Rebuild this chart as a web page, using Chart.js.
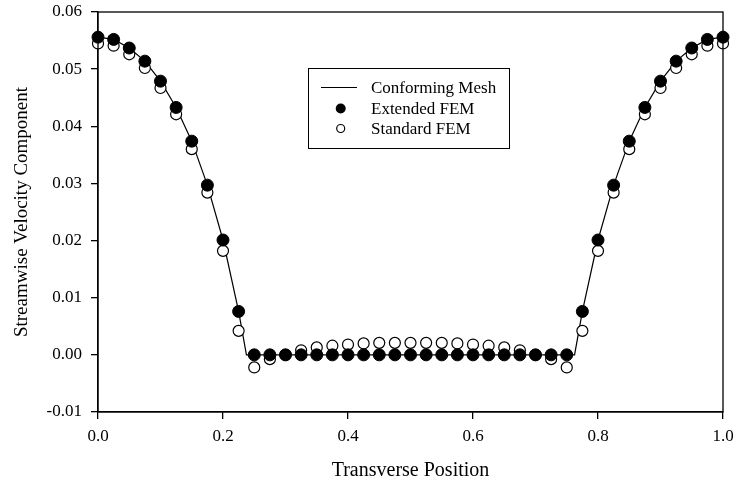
<!DOCTYPE html>
<html>
<head>
<meta charset="utf-8">
<script src="https://cdn.jsdelivr.net/npm/chart.js@4.4.1/dist/chart.umd.min.js"></script>
<style>
  html, body { margin: 0; padding: 0; background: #fff; }
  #wrap { width: 735px; height: 482px; }
</style>
</head>
<body>
<div id="wrap"><canvas id="chart" width="735" height="482"></canvas></div>
<script>
// Transverse positions of the FEM nodes
const positions = [
  0.000, 0.025, 0.050, 0.075, 0.100, 0.125, 0.150, 0.175, 0.200, 0.225,
  0.250, 0.275, 0.300, 0.325, 0.350, 0.375, 0.400, 0.425, 0.450, 0.475,
  0.500, 0.525, 0.550, 0.575, 0.600, 0.625, 0.650, 0.675, 0.700, 0.725,
  0.750, 0.775, 0.800, 0.825, 0.850, 0.875, 0.900, 0.925, 0.950, 0.975,
  1.000
];

const extendedFem = [
  0.0556, 0.0552, 0.0537, 0.0514, 0.0479, 0.0433, 0.0374, 0.0297, 0.0201, 0.0076,
  0, 0, 0, 0, 0, 0, 0, 0, 0, 0,
  0, 0, 0, 0, 0, 0, 0, 0, 0, 0,
  0, 0.0076, 0.0201, 0.0297, 0.0374, 0.0433, 0.0479, 0.0514, 0.0537, 0.0552,
  0.0556
];

const standardFem = [
  0.0545, 0.0541, 0.0526, 0.0502, 0.0467, 0.0421, 0.0360, 0.0284, 0.0182, 0.0042,
  -0.0022, -0.00075, 0.0000, 0.0008, 0.0013, 0.0016, 0.0018, 0.0020, 0.0021, 0.0021,
  0.0021, 0.0021, 0.0021, 0.0020, 0.0018, 0.0016, 0.0013, 0.0008, 0.0000, -0.00075,
  -0.0022, 0.0042, 0.0182, 0.0284, 0.0360, 0.0421, 0.0467, 0.0502, 0.0526, 0.0541,
  0.0545
];

// Conforming mesh solution (kinks at the interface positions)
const meshX = [
  0.000, 0.025, 0.050, 0.075, 0.100, 0.125, 0.150, 0.175, 0.200, 0.225, 0.2375,
  0.7625, 0.775, 0.800, 0.825, 0.850, 0.875, 0.900, 0.925, 0.950, 0.975, 1.000
];
const meshY = [
  0.0556, 0.0552, 0.0537, 0.0514, 0.0479, 0.0433, 0.0374, 0.0297, 0.0201, 0.0076, 0,
  0, 0.0076, 0.0201, 0.0297, 0.0374, 0.0433, 0.0479, 0.0514, 0.0537, 0.0552, 0.0556
];

const xTicks = [0, 0.2, 0.4, 0.6, 0.8, 1.0];
const yTicks = [-0.01, 0, 0.01, 0.02, 0.03, 0.04, 0.05, 0.06];

const legendLabels = ['Conforming Mesh', 'Extended FEM', 'Standard FEM'];
const xTitle = 'Transverse Position';
const yTitle = 'Streamwise Velocity Component';

const FONT = '"Liberation Serif", "Times New Roman", serif';
const toPoints = (xs, ys) => xs.map((x, i) => ({ x, y: ys[i] }));

// frame, axis titles and the boxed legend
const decorations = {
  id: 'decorations',
  afterDraw(chart) {
    const { ctx, chartArea: a } = chart;
    ctx.save();
    ctx.strokeStyle = '#000';
    ctx.lineWidth = 1.3;
    ctx.strokeRect(a.left, a.top, a.right - a.left, a.bottom - a.top);

    ctx.fillStyle = '#000';
    ctx.textAlign = 'center';
    ctx.textBaseline = 'alphabetic';
    ctx.font = '20px ' + FONT;
    ctx.fillText(xTitle, (a.left + a.right) / 2, 476);
    ctx.font = '19px ' + FONT;
    ctx.translate(26.5, (a.top + a.bottom) / 2);
    ctx.rotate(-Math.PI / 2);
    ctx.fillText(yTitle, 0, 0);
    ctx.restore();

    // legend
    ctx.save();
    ctx.strokeStyle = '#000';
    ctx.lineWidth = 1;
    ctx.fillStyle = '#fff';
    ctx.fillRect(308.5, 68.5, 201, 80);
    ctx.strokeRect(308.5, 68.5, 201, 80);
    ctx.fillStyle = '#000';
    ctx.font = '17px ' + FONT;
    ctx.textAlign = 'left';
    ctx.textBaseline = 'middle';
    const rows = [87.5, 108.5, 128.5];
    ctx.beginPath();
    ctx.moveTo(321, rows[0]);
    ctx.lineTo(357, rows[0]);
    ctx.stroke();
    ctx.beginPath();
    ctx.arc(340.7, rows[1], 5, 0, Math.PI * 2);
    ctx.fill();
    ctx.beginPath();
    ctx.lineWidth = 1.2;
    ctx.arc(340.7, rows[2], 4, 0, Math.PI * 2);
    ctx.stroke();
    legendLabels.forEach((t, i) => ctx.fillText(t, 371, rows[i] + 1));
    ctx.restore();
  }
};

const noPad = s => {
  s.paddingLeft = 0; s.paddingRight = 0;
  s.paddingTop = 0; s.paddingBottom = 0;
};

new Chart(document.getElementById('chart'), {
  type: 'scatter',
  data: {
    datasets: [
      {
        label: legendLabels[1],
        data: toPoints(positions, extendedFem),
        pointRadius: 6,
        pointBackgroundColor: '#000',
        pointBorderColor: '#000',
        pointBorderWidth: 1,
        clip: false,
        order: 0
      },
      {
        label: legendLabels[2],
        data: toPoints(positions, standardFem),
        pointRadius: 5.5,
        pointBackgroundColor: '#fff',
        pointBorderColor: '#000',
        pointBorderWidth: 1.2,
        clip: false,
        order: 1
      },
      {
        label: legendLabels[0],
        data: toPoints(meshX, meshY),
        showLine: true,
        borderColor: '#000',
        borderWidth: 1.2,
        pointRadius: 0,
        tension: 0,
        order: 2
      }
    ]
  },
  options: {
    responsive: false,
    animation: false,
    layout: { padding: { top: 12, right: 12, left: 0, bottom: 0 } },
    scales: {
      x: {
        type: 'linear',
        min: 0,
        max: 1,
        afterBuildTicks: s => { s.ticks = xTicks.map(v => ({ value: v })); },
        afterFit: s => { s.height = 70; noPad(s); },
        ticks: {
          callback: v => v.toFixed(1),
          font: { family: FONT, size: 17 },
          color: '#000',
          padding: 7,
          maxRotation: 0
        },
        grid: { display: true, drawOnChartArea: false, drawTicks: true, tickLength: 7, color: '#000', lineWidth: 1.3 },
        border: { display: true, color: '#000', width: 1.3 }
      },
      y: {
        type: 'linear',
        min: -0.01,
        max: 0.06,
        afterBuildTicks: s => { s.ticks = yTicks.map(v => ({ value: v })); },
        afterFit: s => { s.width = 98; noPad(s); },
        ticks: {
          callback: v => v.toFixed(2),
          font: { family: FONT, size: 17 },
          color: '#000',
          padding: 9
        },
        grid: { display: true, drawOnChartArea: false, drawTicks: true, tickLength: 7, color: '#000', lineWidth: 1.3 },
        border: { display: true, color: '#000', width: 1.3 }
      }
    },
    plugins: {
      legend: { display: false },
      tooltip: { enabled: false }
    }
  },
  plugins: [decorations]
});
</script>
</body>
</html>
